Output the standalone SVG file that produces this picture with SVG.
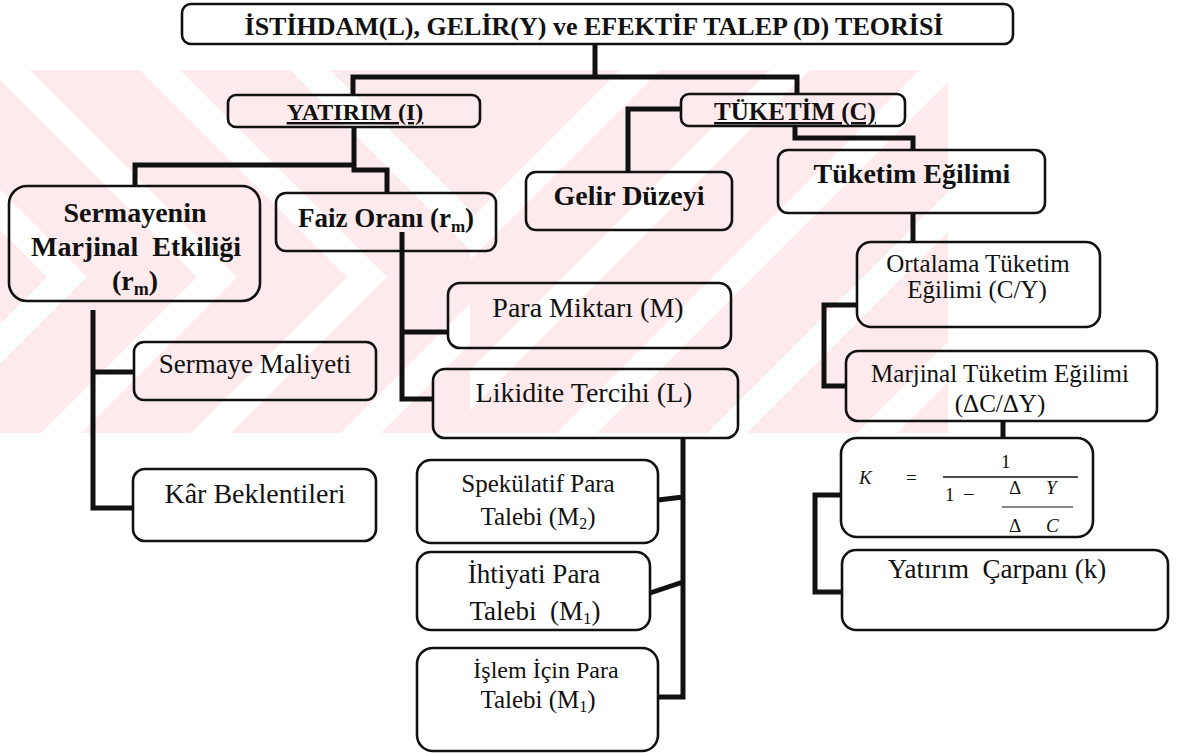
<svg xmlns="http://www.w3.org/2000/svg" width="1185" height="753" viewBox="0 0 1185 753">
<style>
.box{fill:none;stroke:#111;stroke-width:2.6}
.con{fill:none;stroke:#111;stroke-width:5;stroke-linejoin:miter;stroke-linecap:butt}
text{font-family:'Liberation Serif',Tinos,'Times New Roman',Times,'DejaVu Serif',serif;fill:#111}
.b{font-weight:bold;text-anchor:middle}
.r{text-anchor:middle}
.wm{fill:#fff}
</style>
<defs>
<clipPath id="wmL"><rect x="0" y="70" width="470" height="363"/></clipPath>
<clipPath id="wmR"><rect x="470" y="70" width="478" height="363"/></clipPath>
</defs>
<rect width="1185" height="753" fill="#fff"/>
<g id="watermark">
<rect x="0" y="70" width="948" height="363" fill="#fdeaec"/>
<g clip-path="url(#wmL)" class="wm">
<polygon points="-160,70 -120,70 87,277 -69,433 -109,433 47,277"/>
<polygon points="-10,70 30,70 237,277 81,433 41,433 197,277"/>
<polygon points="140,70 180,70 387,277 231,433 191,433 347,277"/>
<polygon points="290,70 330,70 537,277 381,433 341,433 497,277"/>
</g>
<g clip-path="url(#wmR)" class="wm">
<polygon points="620,70 660,70 297,433 257,433"/>
<polygon points="770,70 810,70 447,433 407,433"/>
<polygon points="920,70 960,70 597,433 557,433"/>
<polygon points="1070,70 1110,70 747,433 707,433"/>
<polygon points="1220,70 1260,70 897,433 857,433"/>
</g>
</g>
<g id="connectors">
<path class="con" d="M595,44 V77 M353,95 V77 H797 V94"/>
<path class="con" d="M354,127 V165 H135 V186 M354,165 V170 H387 V193"/>
<path class="con" d="M681,109 H628 V172"/>
<path class="con" d="M795,126 V138 H913 V150"/>
<path class="con" d="M402,232 V399 H433 M402,332 H448"/>
<path class="con" d="M93,310 V508 H133 M93,372 H134"/>
<path class="con" d="M683,438 V697 H658 M683,497 L658,500 M683,582 L650,593"/>
<path class="con" d="M913,213 V242"/>
<path class="con" d="M857,305 H824 V386 H846"/>
<path class="con" d="M1003,421 V438"/>
<path class="con" d="M841,495 H815 V592 H842"/>
</g>
<g id="n-title"><rect class="box" x="182" y="4" width="831" height="40" rx="9"/>
<text class="b" x="594" y="35" font-size="26">İSTİHDAM(L), GELİR(Y) ve EFEKTİF TALEP (D) TEORİSİ</text></g>
<g id="n-yatirim"><rect class="box" x="228" y="95" width="252" height="32" rx="8"/>
<text class="b" x="355" y="120" font-size="24" text-decoration="underline">YATIRIM (I)</text></g>
<g id="n-tuketim"><rect class="box" x="681" y="94" width="224" height="32" rx="8"/>
<text class="b" x="795" y="120" font-size="25" text-decoration="underline">TÜKETİM (C)</text></g>
<g id="n-sermayenin"><rect class="box" x="9" y="186" width="251" height="115" rx="18"/>
<text class="b" x="135" y="222" font-size="28">Sermayenin</text>
<text class="b" x="136" y="256" font-size="28" xml:space="preserve">Marjinal  Etkiliği</text>
<text class="b" x="135" y="290" font-size="28">(r<tspan font-size="18" dy="5">m</tspan><tspan dy="-5">)</tspan></text></g>
<g id="n-faiz"><rect class="box" x="276" y="193" width="220" height="58" rx="10"/>
<text class="b" x="386" y="227" font-size="27">Faiz Oranı (r<tspan font-size="17" dy="5">m</tspan><tspan dy="-5">)</tspan></text></g>
<g id="n-gelir"><rect class="box" x="526" y="172" width="206" height="58" rx="10"/>
<text class="b" x="629" y="205" font-size="28">Gelir Düzeyi</text></g>
<g id="n-egilim"><rect class="box" x="778" y="150" width="267" height="63" rx="10"/>
<text class="b" x="912" y="183" font-size="28">Tüketim Eğilimi</text></g>
<g id="n-ortalama"><rect class="box" x="857" y="242" width="243" height="85" rx="14"/>
<text class="r" x="978" y="272" font-size="25">Ortalama Tüketim</text>
<text class="r" x="977" y="298" font-size="25">Eğilimi (C/Y)</text></g>
<g id="n-para"><rect class="box" x="448" y="283" width="283" height="65" rx="12"/>
<text class="r" x="588" y="317" font-size="28">Para Miktarı (M)</text></g>
<g id="n-likidite"><rect class="box" x="433" y="369" width="305" height="69" rx="12"/>
<text class="r" x="584" y="402" font-size="28">Likidite Tercihi (L)</text></g>
<g id="n-maliyet"><rect class="box" x="134" y="342" width="242" height="58" rx="10"/>
<text class="r" x="255" y="373" font-size="27">Sermaye Maliyeti</text></g>
<g id="n-kar"><rect class="box" x="133" y="469" width="243" height="72" rx="12"/>
<text class="r" x="255" y="503" font-size="28">Kâr Beklentileri</text></g>
<g id="n-marjinal"><rect class="box" x="846" y="351" width="311" height="70" rx="12"/>
<text class="r" x="1000" y="382" font-size="25">Marjinal Tüketim Eğilimi</text>
<text class="r" x="1000" y="412" font-size="25">(ΔC/ΔY)</text></g>
<g id="n-spekulatif"><rect class="box" x="417" y="460" width="241" height="83" rx="14"/>
<text class="r" x="538" y="492" font-size="25">Spekülatif Para</text>
<text class="r" x="538" y="525" font-size="25">Talebi (M<tspan font-size="16" dy="4">2</tspan><tspan dy="-4">)</tspan></text></g>
<g id="n-ihtiyati"><rect class="box" x="417" y="552" width="233" height="78" rx="14"/>
<text class="r" x="534" y="583" font-size="27">İhtiyati Para</text>
<text class="r" x="535" y="620" font-size="27" xml:space="preserve">Talebi  (M<tspan font-size="17" dy="4">1</tspan><tspan dy="-4">)</tspan></text></g>
<g id="n-islem"><rect class="box" x="417" y="648" width="241" height="103" rx="16"/>
<text class="r" x="546" y="678" font-size="24">İşlem İçin Para</text>
<text class="r" x="538" y="708" font-size="25">Talebi (M<tspan font-size="16" dy="4">1</tspan><tspan dy="-4">)</tspan></text></g>
<g id="n-formula"><rect class="box" x="841" y="438" width="252" height="99" rx="16"/>
<g font-size="19">
<text x="859" y="484" font-style="italic">K</text>
<text x="906" y="484">=</text>
<text x="1001" y="468">1</text>
<text x="945" y="501">1</text>
<text x="964" y="499">–</text>
<text x="1009" y="494">Δ</text>
<text x="1046" y="494" font-style="italic">Y</text>
<text x="1009" y="532">Δ</text>
<text x="1046" y="532" font-style="italic">C</text>
</g>
<line x1="943" y1="477" x2="1078" y2="477" stroke="#111" stroke-width="1.6"/>
<line x1="1002" y1="507" x2="1073" y2="507" stroke="#111" stroke-width="1.2"/></g>
<g id="n-carpan"><rect class="box" x="842" y="550" width="326" height="80" rx="14"/>
<text class="r" x="997" y="578" font-size="27" xml:space="preserve">Yatırım  Çarpanı (k)</text></g>
</svg>
